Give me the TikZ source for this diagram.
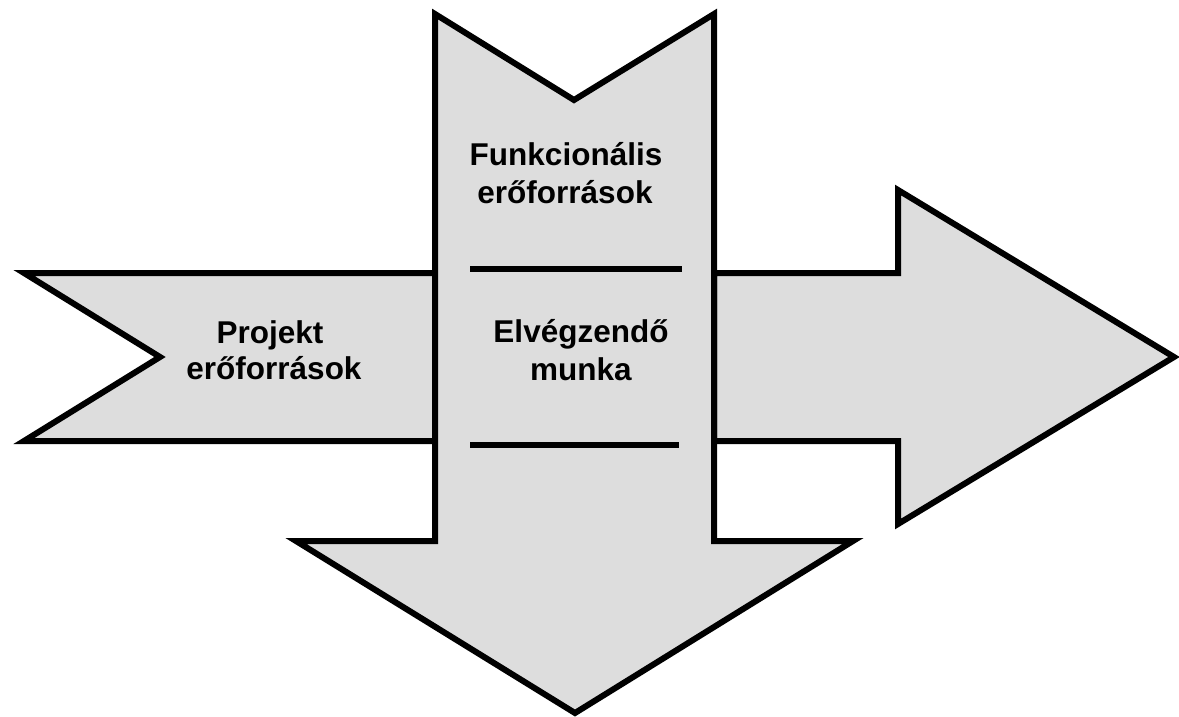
\documentclass[tikz,border=0pt]{standalone}
\usepackage{fontspec}
\setmainfont{Liberation Sans}
\definecolor{boxgray}{RGB}{221,221,221}
\begin{document}
\begin{tikzpicture}[x=1pt,y=-1pt,
  shapebox/.style={draw=black,fill=boxgray,line width=6pt,line join=miter},
  divider/.style={draw=black,line width=6pt,line cap=butt},
  lbl/.style={anchor=base,inner sep=0pt,font=\fontsize{31.5}{37}\selectfont\bfseries}]
\useasboundingbox (0,0) rectangle (1179,717);
% left (tail) arrow
\path[shapebox] (24,273) -- (435,273) -- (435,441) -- (24,441) -- (160,357) -- cycle;
% right arrow
\path[shapebox] (714,273) -- (898,273) -- (898,190) -- (1174,357) -- (898,524) -- (898,441) -- (714,441) -- cycle;
% vertical column with down arrow
\path[shapebox] (435,14) -- (574,100) -- (714,14) -- (714,541) -- (853,541) -- (575,713) -- (296,541) -- (435,541) -- cycle;
% dividers
\coordinate (d1a) at (470,268.5);
\coordinate (d1b) at (682,268.5);
\coordinate (d2a) at (470,444.5);
\coordinate (d2b) at (679,444.5);
\draw[divider] (d1a) -- (d1b);
\draw[divider] (d2a) -- (d2b);
% labels
\node[lbl] (projA) at (270,343) {Projekt};
\node[lbl] (projB) at (274,379) {erőforrások};
\node[lbl] (funkA) at (566,165) {Funkcionális};
\node[lbl] (funkB) at (565,203) {erőforrások};
\node[lbl] (munA) at (581,342) {Elvégzendő};
\node[lbl] (munB) at (581,380) {munka};
\end{tikzpicture}
\end{document}
